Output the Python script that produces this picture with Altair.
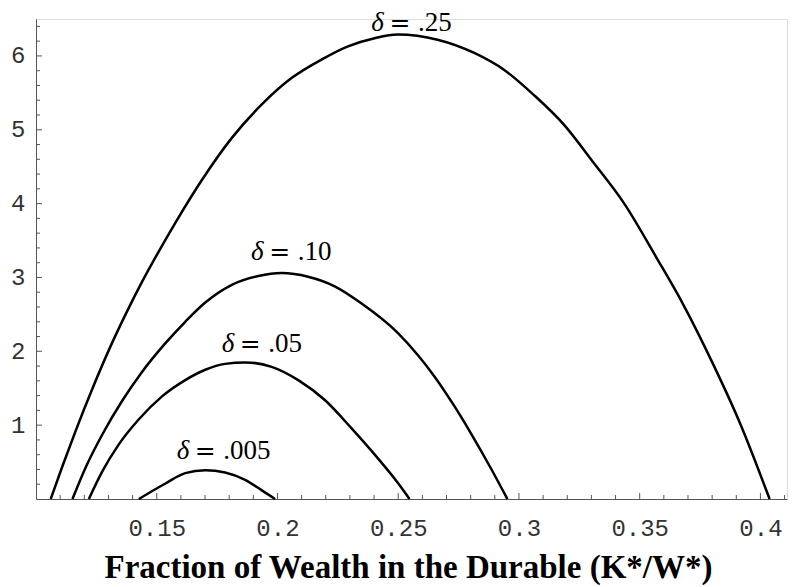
import altair as alt
import pandas as pd

# ---- data ----
d25_x = [0.1061, 0.1109, 0.1165, 0.1233, 0.1309, 0.1371, 0.1439, 0.1508, 0.1577, 0.1687,
         0.1811, 0.1934, 0.2058, 0.2182, 0.2292, 0.2402, 0.2498, 0.2663, 0.2815, 0.2939,
         0.3062, 0.3186, 0.3310, 0.3434, 0.3571, 0.3681, 0.3805, 0.3915, 0.4038]
d25_y = [0.0, 0.44, 0.93, 1.49, 2.07, 2.50, 2.94, 3.35, 3.74, 4.32,
         4.89, 5.34, 5.70, 5.95, 6.13, 6.24, 6.29, 6.22, 6.04, 5.81,
         5.47, 5.07, 4.55, 4.01, 3.26, 2.63, 1.82, 1.03, 0.0]

d10_x = [0.1151, 0.1206, 0.1274, 0.1357, 0.1439, 0.1536, 0.1618, 0.1701, 0.1811, 0.1921,
         0.2017, 0.2127, 0.2237, 0.2347, 0.2498, 0.2581, 0.2650, 0.2732, 0.2801, 0.2883, 0.2952]
d10_y = [0.0, 0.43, 0.87, 1.33, 1.72, 2.11, 2.40, 2.66, 2.90, 3.02,
         3.06, 3.01, 2.88, 2.65, 2.25, 1.95, 1.66, 1.26, 0.89, 0.42, 0.0]

d05_x = [0.1219, 0.1274, 0.1343, 0.1426, 0.1522, 0.1618, 0.1701, 0.1783, 0.1866, 0.1976,
         0.2086, 0.2196, 0.2306, 0.2416, 0.2498, 0.2547]
d05_y = [0.0, 0.37, 0.74, 1.08, 1.39, 1.61, 1.75, 1.83, 1.85, 1.79,
         1.61, 1.34, 0.96, 0.55, 0.22, 0.0]

d005_x = [0.1426, 0.1536, 0.1618, 0.1701, 0.1783, 0.1866, 0.1934, 0.1990]
d005_y = [0.0, 0.21, 0.35, 0.39, 0.36, 0.26, 0.12, 0.0]

label_series = ["0.25", "0.10", "0.05", "0.005"]
label_values = [".25", ".10", ".05", ".005"]
label_x = [0.2507, 0.2009, 0.1887, 0.1701]
label_y = [6.335, 3.23, 1.99, 0.545]

x_major = [0.15, 0.20, 0.25, 0.30, 0.35, 0.40]
x_minor = [0.11, 0.12, 0.13, 0.14, 0.16, 0.17, 0.18, 0.19, 0.21, 0.22, 0.23, 0.24,
           0.26, 0.27, 0.28, 0.29, 0.31, 0.32, 0.33, 0.34, 0.36, 0.37, 0.38, 0.39, 0.41]
y_major = [1, 2, 3, 4, 5, 6]
y_minor = [0.2, 0.4, 0.6, 0.8, 1.2, 1.4, 1.6, 1.8, 2.2, 2.4, 2.6, 2.8, 3.2, 3.4, 3.6, 3.8,
           4.2, 4.4, 4.6, 4.8, 5.2, 5.4, 5.6, 5.8, 6.2, 6.4]

X_DOMAIN = [0.1, 0.411]
Y_DOMAIN = [0, 6.5]
W, H = 751, 480

# ---- tables ----
curves = pd.concat([
    pd.DataFrame({"x": d25_x, "y": d25_y, "s": "0.25"}),
    pd.DataFrame({"x": d10_x, "y": d10_y, "s": "0.10"}),
    pd.DataFrame({"x": d05_x, "y": d05_y, "s": "0.05"}),
    pd.DataFrame({"x": d005_x, "y": d005_y, "s": "0.005"}),
], ignore_index=True)

labels = pd.DataFrame({"s": label_series, "v": label_values, "x": label_x, "y": label_y})

# tick lengths in data units (6 px major, 4 px minor)
xpu = W / (X_DOMAIN[1] - X_DOMAIN[0])
ypu = H / (Y_DOMAIN[1] - Y_DOMAIN[0])
xt = pd.DataFrame({
    "x": x_major + x_minor,
    "y0": 0.0,
    "y1": [6 / ypu] * len(x_major) + [4 / ypu] * len(x_minor),
})
yt = pd.DataFrame({
    "y": y_major + y_minor,
    "x0": X_DOMAIN[0],
    "x1": [X_DOMAIN[0] + 6 / xpu] * len(y_major) + [X_DOMAIN[0] + 4 / xpu] * len(y_minor),
})

xscale = alt.Scale(domain=X_DOMAIN, nice=False, zero=False)
yscale = alt.Scale(domain=Y_DOMAIN, nice=False, zero=False)

x_axis = alt.Axis(
    values=x_major, format=".2~f", ticks=False, grid=False,
    domainColor="#555", domainWidth=1,
    labelFont="Liberation Mono", labelFontSize=24, labelColor="#333",
    labelBaseline="alphabetic", labelPadding=36, labelFlush=False,
    title="Fraction of Wealth in the Durable (K*/W*)",
    titleFont="Liberation Serif", titleFontSize=33, titleFontWeight="bold",
    titleColor="#000", titleBaseline="alphabetic", titleAlign="center",
    titleX=372, titleY=78, titleAnchor="middle",
)
y_axis = alt.Axis(
    values=y_major, format="d", ticks=False, grid=False,
    domainColor="#555", domainWidth=1,
    labelFont="Liberation Mono", labelFontSize=24, labelColor="#333",
    labelPadding=11, labelFlush=False, title=None,
)

lines = alt.Chart(curves).mark_line(color="black", strokeWidth=2.5, interpolate="monotone").encode(
    x=alt.X("x:Q", scale=xscale, axis=x_axis),
    y=alt.Y("y:Q", scale=yscale, axis=y_axis),
    detail="s:N",
)

xticks = alt.Chart(xt).mark_rule(color="#555", strokeWidth=1).encode(
    x="x:Q", y="y0:Q", y2="y1:Q"
)
yticks = alt.Chart(yt).mark_rule(color="#555", strokeWidth=1).encode(
    y="y:Q", x="x0:Q", x2="x1:Q"
)

delta = alt.Chart(labels).mark_text(
    text="δ", font="Liberation Serif", fontStyle="italic", fontSize=27,
    align="right", baseline="alphabetic", dx=-16, color="black",
).encode(x="x:Q", y="y:Q")
equals = alt.Chart(labels).mark_text(
    text="=", font="DejaVu Serif", fontSize=25,
    align="center", baseline="alphabetic", color="black",
).encode(x="x:Q", y="y:Q")
values = alt.Chart(labels).mark_text(
    font="Liberation Serif", fontSize=27,
    align="left", baseline="alphabetic", dx=18, color="black",
).encode(x="x:Q", y="y:Q", text="v:N")

chart = alt.layer(lines, xticks, yticks, delta, equals, values).properties(
    width=W, height=H,
    autosize=alt.AutoSizeParams(type="none"),
    padding={"left": 28, "top": 11, "right": 6, "bottom": 88},
).configure_view(stroke=None).configure(background="white")

chart.save("out.html", embed_options={"renderer": "svg", "actions": False})
